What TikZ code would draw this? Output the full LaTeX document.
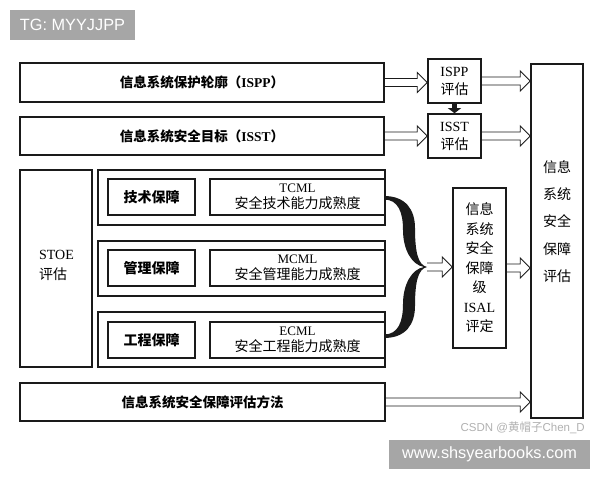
\documentclass[tikz,border=0pt]{standalone}
\usepackage{fontspec}
\setmainfont{Liberation Serif}
\newfontfamily\cjk{Noto Sans CJK SC}
\newfontfamily\wmfont{Liberation Sans}
\usetikzlibrary{calc,arrows.meta}
\definecolor{ink}{HTML}{1A1A1A}
\definecolor{wmgray}{HTML}{A6A6A6}
\definecolor{wmtext}{HTML}{B0B0B0}
\newcommand\zh[1]{{\cjk #1}}
\begin{document}
\begin{tikzpicture}[x=1pt,y=-1pt,
  box/.style 2 args={draw=ink,line width=1.6pt,inner sep=0pt,minimum width=#1,minimum height=#2,align=center,font=\fontsize{13.5}{16}\selectfont},
  inbox/.style 2 args={draw=ink,line width=1.3pt,inner sep=0pt,minimum width=#1,minimum height=#2,align=center,font=\fontsize{13}{16.5}\selectfont},
  harrow/.style={draw=ink,line width=0.9pt,to path={let \p1=(\tikztostart), \p2=(\tikztotarget) in
      (\x1,\y1+4pt) -- (\x2-10pt,\y1+4pt) -- (\x2-10pt,\y1+10pt) -- (\x2,\y1) -- (\x2-10pt,\y1-10pt) -- (\x2-10pt,\y1-4pt) -- (\x1,\y1-4pt)}},
  wmbox/.style={fill=wmgray,inner sep=0pt,text=white,font=\wmfont\fontsize{16.3}{18}\selectfont}
]
\useasboundingbox (0,0) rectangle (600,480);

% left column
\node[box={364}{39}] (ispp) at (202,82.5) {\zh{\bfseries 信息系统保护轮廓（}\textbf{ISPP}\zh{\bfseries ）}};
\node[box={364}{38}] (isst) at (202,136) {\zh{\bfseries 信息系统安全目标（}\textbf{ISST}\zh{\bfseries ）}};
\node[box={72}{197}] (stoe) at (56,268.5) {};
\node[align=left,inner sep=0pt,font=\fontsize{14}{20}\selectfont] (stoetxt) at (56.5,265) {STOE\\\zh{评估}};

\node[box={287}{55}] (g1) at (241.5,197.5) {};
\node[inbox={87}{36}] (g1a) at (151.5,197) {\zh{\bfseries\fontsize{14}{16}\selectfont 技术保障}};
\node[inbox={175}{36}] (g1b) at (297.5,197) {TCML\\\zh{\fontsize{14}{16}\selectfont 安全技术能力成熟度}};

\node[box={287}{55}] (g2) at (241.5,268.5) {};
\node[inbox={87}{36}] (g2a) at (151.5,268) {\zh{\bfseries\fontsize{14}{16}\selectfont 管理保障}};
\node[inbox={175}{36}] (g2b) at (297.5,268) {MCML\\\zh{\fontsize{14}{16}\selectfont 安全管理能力成熟度}};

\node[box={287}{55}] (g3) at (241.5,339.5) {};
\node[inbox={87}{36}] (g3a) at (151.5,340) {\zh{\bfseries\fontsize{14}{16}\selectfont 工程保障}};
\node[inbox={175}{36}] (g3b) at (297.5,340) {ECML\\\zh{\fontsize{14}{16}\selectfont 安全工程能力成熟度}};

\node[box={365}{38}] (method) at (202.5,402) {\zh{\bfseries 信息系统安全保障评估方法}};

% middle / right column
\node[box={53}{44},font=\fontsize{14}{18}\selectfont] (isppE) at (454.5,81) {ISPP\\\zh{评估}};
\node[box={53}{44},font=\fontsize{14}{18}\selectfont] (isstE) at (454.5,136) {ISST\\\zh{评估}};
\node[box={53}{160},font=\fontsize{14}{19.5}\selectfont] (isal) at (479.5,268) {\zh{信息}\\\zh{系统}\\\zh{安全}\\\zh{保障}\\\zh{级}\\ISAL\\\zh{评定}};
\node[box={52}{354}] (right) at (557,241) {};
\node[align=center,inner sep=0pt,font=\fontsize{14}{27.2}\selectfont] (righttxt) at (557,221.5) {\zh{信息}\\\zh{系统}\\\zh{安全}\\\zh{保障}\\\zh{评估}};

% brace
\fill[ink] (384,196) .. controls (406,196) and (415,210) .. (415,228)
  .. controls (415,252) and (418,265) .. (427,267)
  .. controls (418,269) and (415,282) .. (415,306)
  .. controls (415,324) and (406,338) .. (384,338)
  -- (384,334.5) .. controls (398,334.5) and (403,322) .. (403,304)
  .. controls (403,284) and (412,269) .. (424,267)
  .. controls (412,265) and (403,250) .. (403,230)
  .. controls (403,212) and (398,199.5) .. (384,199.5) -- cycle;
\coordinate (bt) at (427,267);

% arrows
\draw[harrow] (ispp.east) to (isppE.west);
\draw[harrow] (isst.east) to (isstE.west);
\draw[harrow] (isppE.east) to (right.west |- isppE.east);
\draw[harrow] (isstE.east) to (right.west |- isstE.east);
\draw[harrow] (bt) to (isal.west |- bt);
\draw[harrow] (isal.east) to (right.west |- isal.east);
\draw[harrow] (method.east) to (right.west |- method.east);
\draw[ink,line width=5pt,-{Triangle[length=5pt,width=13pt]}] (isppE.south) -- (isstE.north);

% overlay labels
\node[wmbox,minimum width=125,minimum height=30] (tg) at (72.5,25) {TG: MYYJJPP};
\node[text=wmtext,anchor=east,inner sep=0pt,font=\wmfont\fontsize{11.5}{13}\selectfont] (csdn) at (585,428) {CSDN @\zh{黄帽子}Chen\_D};
\node[wmbox,minimum width=201,minimum height=29] (www) at (489.5,454.5) {www.shsyearbooks.com};
\end{tikzpicture}
\end{document}
